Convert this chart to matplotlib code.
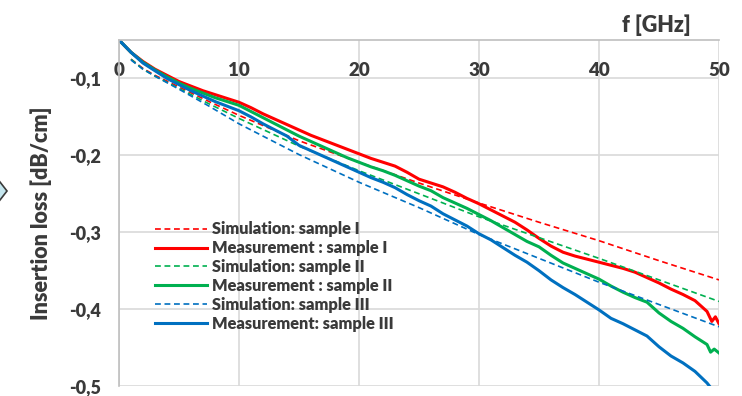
import matplotlib
matplotlib.use("Agg")
from matplotlib import pyplot as plt
from matplotlib.patches import Polygon

# simulation curves (dashed)
f_sim = [1, 2, 3, 5, 7.5, 10, 15, 20, 25, 30, 35, 40, 45, 50]
sim_1 = [-0.075, -0.087, -0.096, -0.111, -0.130, -0.148, -0.181, -0.209, -0.236, -0.262, -0.287, -0.311, -0.337, -0.362]
sim_2 = [-0.075, -0.088, -0.097, -0.113, -0.133, -0.152, -0.188, -0.220, -0.250, -0.280, -0.307, -0.334, -0.362, -0.390]
sim_3 = [-0.076, -0.088, -0.097, -0.114, -0.136, -0.159, -0.199, -0.235, -0.268, -0.303, -0.334, -0.365, -0.394, -0.423]

# measurement curves (solid)
f_m1 = [0, 0.5, 1, 2, 3, 4, 5, 6, 7, 8, 9, 10, 11, 12, 13, 14, 15, 16, 17, 18, 19, 20,
        21, 22, 23, 24, 25, 26, 27, 28, 29, 30, 31, 32, 33, 34, 35, 36, 37, 38, 39, 40,
        41, 42, 43, 44, 45, 46, 47, 48, 49, 49.4, 49.7, 50]
meas_1 = [-0.050, -0.058, -0.066, -0.078, -0.088, -0.096, -0.104, -0.110, -0.116, -0.121, -0.126, -0.131,
          -0.138, -0.146, -0.153, -0.160, -0.167, -0.174, -0.180, -0.186, -0.192, -0.198,
          -0.204, -0.209, -0.214, -0.222, -0.231, -0.236, -0.241, -0.248, -0.256, -0.263,
          -0.271, -0.279, -0.287, -0.297, -0.308, -0.318, -0.326, -0.331, -0.335, -0.339,
          -0.343, -0.347, -0.352, -0.359, -0.366, -0.374, -0.381, -0.389, -0.403, -0.416, -0.410, -0.419]

f_m2 = [0, 0.5, 1, 2, 3, 4, 5, 6, 7, 8, 9, 10, 11, 12, 13, 14, 15, 16, 17, 18, 19, 20,
        21, 22, 23, 24, 25, 26, 27, 28, 29, 30, 31, 32, 33, 34, 35, 36, 37, 38, 39, 40,
        41, 42, 43, 44, 45, 46, 47, 48, 49, 49.3, 49.6, 50]
meas_2 = [-0.050, -0.058, -0.066, -0.079, -0.089, -0.098, -0.106, -0.113, -0.119, -0.125, -0.130, -0.135,
          -0.143, -0.151, -0.159, -0.167, -0.175, -0.182, -0.189, -0.196, -0.203, -0.209,
          -0.215, -0.220, -0.226, -0.233, -0.240, -0.246, -0.255, -0.262, -0.269, -0.277,
          -0.285, -0.294, -0.303, -0.312, -0.319, -0.330, -0.340, -0.347, -0.354, -0.361,
          -0.370, -0.378, -0.385, -0.391, -0.405, -0.416, -0.425, -0.436, -0.446, -0.456, -0.452, -0.457]

f_m3 = [0, 0.5, 1, 2, 3, 4, 5, 6, 7, 8, 9, 10, 11, 12, 13, 14, 15, 16, 17, 18, 19, 20,
        21, 22, 23, 24, 25, 26, 27, 28, 29, 30, 31, 32, 33, 34, 35, 36, 37, 38, 39, 40,
        41, 42, 43, 44, 45, 46, 47, 48, 49, 49.5]
meas_3 = [-0.050, -0.058, -0.066, -0.080, -0.090, -0.100, -0.108, -0.116, -0.123, -0.130, -0.136, -0.142,
          -0.150, -0.159, -0.167, -0.175, -0.187, -0.194, -0.201, -0.208, -0.215, -0.222,
          -0.229, -0.235, -0.242, -0.251, -0.259, -0.266, -0.276, -0.284, -0.292, -0.302,
          -0.310, -0.320, -0.330, -0.339, -0.350, -0.362, -0.372, -0.381, -0.391, -0.401,
          -0.412, -0.419, -0.427, -0.435, -0.449, -0.461, -0.470, -0.481, -0.496, -0.506]

x_ticks = [0, 10, 20, 30, 40, 50]
y_ticks = [-0.1, -0.2, -0.3, -0.4, -0.5]
y_tick_labels = ["-0,1", "-0,2", "-0,3", "-0,4", "-0,5"]

RED = "#ff0000"
GREEN = "#00b050"
BLUE = "#0070c0"
TXT = "#3a3a3a"

plt.rcParams['font.family'] = ['Lato', 'DejaVu Sans']

fig = plt.figure(figsize=(7.42, 3.96), dpi=100)
ax = fig.add_axes([119 / 742, 10 / 396, 600 / 742, 346 / 396])

dash = (0, (3.5, 2.2))
ax.plot(f_sim, sim_1, color=RED, lw=1.2, linestyle=dash, label="Simulation: sample I")
ax.plot(f_m1, meas_1, color=RED, lw=2.2, label="Measurement : sample I")
ax.plot(f_sim, sim_2, color=GREEN, lw=1.2, linestyle=dash, label="Simulation: sample II")
ax.plot(f_m2, meas_2, color=GREEN, lw=2.2, label="Measurement : sample II")
ax.plot(f_sim, sim_3, color=BLUE, lw=1.2, linestyle=dash, label="Simulation: sample III")
ax.plot(f_m3, meas_3, color=BLUE, lw=2.2, label="Measurement: sample III")

ax.set_xlim(0, 50)
ax.set_ylim(-0.5, -0.05)
ax.set_xticks(x_ticks)
ax.set_yticks(y_ticks)
ax.set_yticklabels(y_tick_labels)
ax.grid(True, color="#d9d9d9", lw=1.2)
ax.set_axisbelow(True)
for s in ["right", "bottom"]:
    ax.spines[s].set_visible(False)
for s in ["left", "top"]:
    ax.spines[s].set_color("#bfbfbf")
    ax.spines[s].set_linewidth(1.2)

W = "heavy"

# x labels sit just under the top axis line, inside the plot
ax.xaxis.tick_top()
ax.tick_params(axis="x", length=0, pad=-28, labelsize=13.5, labelcolor=TXT)
ax.tick_params(axis="y", length=0, pad=13, labelsize=13, labelcolor=TXT)
for lab in ax.get_xticklabels() + ax.get_yticklabels():
    lab.set_fontweight(W)

ax.set_ylabel("Insertion loss [dB/cm]", fontsize=15.5, fontweight=W, color=TXT, labelpad=12)
fig.text(656 / 742, 1 - 25 / 396, "f [GHz]", fontsize=15.5, fontweight=W, color=TXT,
         ha="center", va="center")

leg = ax.legend(loc="upper left", bbox_to_anchor=(0.06, 0.476), frameon=False,
                fontsize=11.8, handlelength=3.15, handletextpad=0.3, labelspacing=0.18,
                borderpad=0, borderaxespad=0)
for t in leg.get_texts():
    t.set_color(TXT)
    t.set_fontweight(W)

# partial marker at the left edge of the picture
fig.patches.append(Polygon([[-7 / 742, 1 - 191 / 396], [0, 1 - 182 / 396], [7 / 742, 1 - 191 / 396], [0, 1 - 200 / 396]],
                           closed=True, transform=fig.transFigure, facecolor="#c5e6ee",
                           edgecolor="#3a3a3a", lw=1.2))

fig.savefig("out.png", dpi=100)
